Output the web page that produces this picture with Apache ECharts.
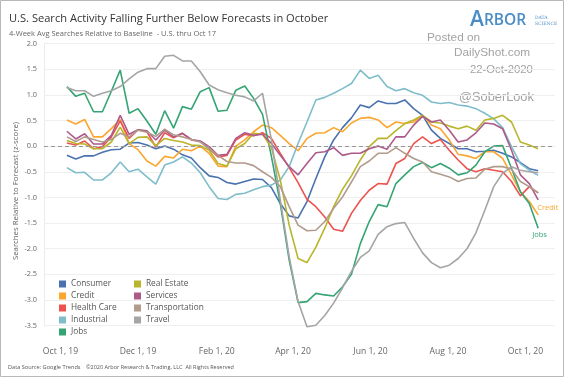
<!DOCTYPE html>
<html>
<head>
<meta charset="utf-8">
<script src="https://cdn.jsdelivr.net/npm/echarts@6/dist/echarts.min.js"></script>
<style>
  html, body { margin: 0; padding: 0; background: #fff; }
  #chart { width: 564px; height: 377px; }
</style>
</head>
<body>
<div id="chart"></div>
<script>
// weekly points (4-week avg), week starting
const weeks = [
  '2019-10-06','2019-10-13','2019-10-20','2019-10-27','2019-11-03','2019-11-10','2019-11-17','2019-11-24',
  '2019-12-01','2019-12-08','2019-12-15','2019-12-22','2019-12-29','2020-01-05','2020-01-12','2020-01-19',
  '2020-01-26','2020-02-02','2020-02-09','2020-02-16','2020-02-23','2020-03-01','2020-03-08','2020-03-15',
  '2020-03-22','2020-03-29','2020-04-05','2020-04-12','2020-04-19','2020-04-26','2020-05-03','2020-05-10',
  '2020-05-17','2020-05-24','2020-05-31','2020-06-07','2020-06-14','2020-06-21','2020-06-28','2020-07-05',
  '2020-07-12','2020-07-19','2020-07-26','2020-08-02','2020-08-09','2020-08-16','2020-08-23','2020-08-30',
  '2020-09-06','2020-09-13','2020-09-20','2020-09-27','2020-10-04','2020-10-11'
];

const consumer = [-0.18,-0.25,-0.19,-0.19,-0.12,-0.07,-0.06,0.06,0.07,0.02,
  -0.05,0.0,-0.06,-0.17,-0.23,-0.42,-0.58,-0.61,-0.71,-0.74,
  -0.69,-0.64,-0.65,-0.81,-1.12,-1.36,-1.40,-1.08,-0.63,-0.21,
  0.12,0.36,0.55,0.80,0.75,0.88,0.83,0.83,0.90,0.73,
  0.60,0.31,0.15,0.05,-0.05,-0.05,-0.11,-0.10,-0.08,-0.14,
  -0.21,-0.32,-0.44,-0.48];
const credit = [0.51,0.43,0.52,0.18,0.18,0.34,0.52,0.05,-0.07,-0.29,
  -0.39,-0.20,-0.23,-0.06,-0.09,0.0,-0.14,-0.39,-0.40,0.0,
  0.12,0.28,0.41,0.36,0.21,0.05,-0.09,0.15,0.25,0.26,
  0.36,0.28,0.45,0.54,0.56,0.51,0.36,0.47,0.44,0.47,
  0.60,0.41,0.34,0.12,-0.16,-0.19,-0.24,-0.11,-0.11,-0.24,
  -0.56,-0.89,-1.08,-1.34];
const healthCare = [0.06,0.02,0.10,-0.05,-0.01,0.18,0.49,0.15,0.32,0.28,
  -0.02,0.26,0.16,0.25,0.12,0.09,-0.05,-0.21,-0.18,0.12,
  0.23,0.20,0.26,0.15,-0.14,-0.42,-0.71,-1.04,-1.18,-1.38,
  -1.62,-1.66,-1.31,-1.06,-0.86,-0.73,-0.74,-0.34,-0.24,0.05,
  0.18,0.05,0.13,-0.08,-0.27,-0.44,-0.50,-0.44,-0.47,-0.50,
  -0.69,-0.97,-0.79,-0.91];
const industrial = [-0.42,-0.52,-0.51,-0.66,-0.66,-0.52,-0.31,-0.50,-0.45,-0.60,
  -0.74,-0.37,-0.31,-0.21,-0.33,-0.52,-0.79,-1.02,-1.04,-0.94,
  -0.92,-0.85,-0.79,-0.76,-0.66,-0.40,0.05,0.47,0.90,0.95,
  1.03,1.12,1.22,1.48,1.32,1.38,1.16,1.08,1.12,1.04,
  0.99,0.86,0.83,0.85,0.80,0.78,0.73,0.64,0.53,0.36,
  -0.01,-0.34,-0.47,-0.57];
const jobs = [1.16,0.97,1.03,0.67,0.67,1.07,1.48,0.64,0.73,0.49,
  0.23,0.69,0.35,0.77,0.72,1.06,1.14,0.68,0.70,1.09,
  1.17,0.93,0.62,-0.20,-1.12,-2.22,-3.05,-3.03,-2.87,-2.90,
  -2.92,-2.74,-2.50,-1.90,-1.47,-1.14,-1.18,-0.73,-0.56,-0.40,
  -0.32,-0.42,-0.34,-0.43,-0.56,-0.52,-0.37,-0.11,0.0,0.01,
  -0.43,-0.89,-1.12,-1.60];
const realEstate = [0.11,0.05,0.04,-0.05,-0.05,0.08,0.37,0.05,0.17,0.18,
  0.01,0.15,0.11,0.08,0.02,0.01,-0.08,-0.34,-0.39,-0.05,
  0.05,0.25,0.23,-0.03,-0.66,-1.54,-2.19,-2.27,-1.97,-1.60,
  -1.18,-0.84,-0.58,-0.27,-0.01,0.15,0.15,0.30,0.44,0.51,
  0.60,0.47,0.45,0.39,0.34,0.39,0.31,0.51,0.54,0.60,
  0.47,0.08,0.02,-0.05];
const services = [0.29,0.14,0.24,0.04,0.04,0.21,0.60,0.23,0.32,0.30,
  0.12,0.31,0.18,0.25,0.13,0.10,-0.01,-0.18,-0.16,0.15,
  0.26,0.21,0.23,0.05,-0.18,-0.40,-0.56,-0.34,-0.13,-0.11,
  -0.03,-0.18,-0.14,-0.14,-0.05,0.0,-0.06,0.18,0.18,0.41,
  0.58,0.47,0.51,0.31,0.08,0.12,0.26,0.45,0.43,0.34,
  -0.08,-0.56,-0.73,-1.05];
const transportation = [0.18,0.09,0.18,0.13,0.08,0.13,0.25,0.18,0.31,0.27,
  0.19,0.33,0.22,0.18,0.13,0.08,-0.05,-0.18,-0.30,-0.33,
  -0.33,-0.38,-0.50,-0.61,-0.79,-1.18,-1.54,-1.65,-1.64,-1.47,
  -1.21,-0.99,-0.70,-0.40,-0.29,-0.14,-0.14,-0.03,-0.14,-0.24,
  -0.31,-0.50,-0.55,-0.60,-0.69,-0.63,-0.62,-0.45,-0.40,-0.40,
  -0.45,-0.69,-0.79,-0.91];
const travel = [1.14,1.08,1.08,0.97,1.03,1.08,1.16,1.31,1.44,1.51,
  1.51,1.75,1.77,1.66,1.66,1.45,1.19,1.10,1.04,0.99,
  0.96,0.88,1.03,0.12,-1.05,-2.16,-3.03,-3.52,-3.49,-3.30,
  -3.06,-2.76,-2.44,-2.17,-2.04,-1.72,-1.57,-1.51,-1.49,-1.80,
  -2.08,-2.27,-2.37,-2.32,-2.19,-2.00,-1.69,-1.25,-0.79,-0.53,
  -0.40,-0.47,-0.50,-0.52];

const tickDates = ['2019-10-01','2019-12-01','2020-02-01','2020-04-01','2020-06-01','2020-08-01','2020-10-01'];

const names = ['Consumer','Credit','Health Care','Industrial','Jobs','Real Estate','Services','Transportation','Travel'];
const seriesData = [consumer, credit, healthCare, industrial, jobs, realEstate, services, transportation, travel];
const colors = ['#4a72ae','#fba62f','#ec534f','#7fbdcb','#35a474','#b8b52c','#ad5a8b','#b19b8c','#a5a5a5'];

const FONT = 'Open Sans';
const MONTHS = ['Jan','Feb','Mar','Apr','May','Jun','Jul','Aug','Sep','Oct','Nov','Dec'];
function toTime(s) {
  const p = s.split('-');
  return new Date(+p[0], +p[1] - 1, +p[2]).getTime();
}
function fmtTick(v) {
  const d = new Date(v);
  return MONTHS[d.getMonth()] + ' ' + d.getDate() + ', ' + String(d.getFullYear()).slice(2);
}

// end-of-line tags shown on the chart
const endTags = {
  'Credit': { offset: [-9, -7] },
  'Jobs': { offset: [-14, 7] }
};

const series = names.map((name, k) => {
  const s = {
    name: name,
    type: 'line',
    data: weeks.map((w, i) => [toTime(w), seriesData[k][i]]),
    showSymbol: false,
    symbol: 'none',
    clip: false,
    lineStyle: { width: 1.6, color: colors[k] },
    itemStyle: { color: colors[k] },
    emphasis: { disabled: true }
  };
  if (endTags[name]) {
    s.endLabel = {
      show: true,
      formatter: name,
      color: colors[k],
      fontFamily: FONT,
      fontSize: 7.5,
      offset: endTags[name].offset
    };
  }
  return s;
});

series[0].markLine = {
  silent: true,
  symbol: 'none',
  label: { show: false },
  lineStyle: { color: '#999', type: [4, 3], width: 1 },
  data: [{ yAxis: 0 }]
};

const legendText = { fontFamily: FONT, fontSize: 8.3, color: '#555', lineHeight: 12 };

const option = {
  animation: false,
  backgroundColor: '#fff',
  grid: { left: 44, right: 9.3, top: 43.5, bottom: 51.3 },
  xAxis: {
    type: 'value',
    min: toTime('2019-09-18'),
    max: toTime('2020-10-24'),
    offset: 14,
    axisLine: { show: true, lineStyle: { color: '#ececec' } },
    axisTick: { show: false },
    splitLine: { show: false },
    axisLabel: {
      customValues: tickDates.map(toTime),
      formatter: (v) => fmtTick(v),
      color: '#666',
      fontFamily: FONT,
      fontSize: 8.6,
      margin: 7
    }
  },
  yAxis: {
    type: 'value',
    min: -3.5,
    max: 2.0,
    interval: 0.5,
    axisLine: { show: true, lineStyle: { color: '#ececec' } },
    axisTick: { show: false },
    splitLine: { lineStyle: { color: '#efefef' } },
    axisLabel: {
      formatter: (v) => v.toFixed(1),
      color: '#666',
      fontFamily: FONT,
      fontSize: 7.3,
      margin: 7
    }
  },
  legend: [
    {
      data: names.slice(0, 5),
      orient: 'vertical',
      left: 54,
      top: 273,
      icon: 'rect',
      itemWidth: 7,
      itemHeight: 7,
      itemGap: 0,
      textStyle: legendText,
      selectedMode: false
    },
    {
      data: names.slice(5),
      orient: 'vertical',
      left: 129,
      top: 273,
      icon: 'rect',
      itemWidth: 7,
      itemHeight: 7,
      itemGap: 0,
      textStyle: legendText,
      selectedMode: false
    }
  ],
  graphic: [
    { type: 'rect', silent: true, shape: { x: 0.5, y: 0.5, width: 563, height: 376 },
      style: { fill: 'none', stroke: '#b8b8b8', lineWidth: 1 } },
    { type: 'text', x: 9, y: 19, style: { text: 'U.S. Search Activity Falling Further Below Forecasts in October',
      font: '11.1px "Open Sans"', fill: '#333', verticalAlign: 'middle' } },
    { type: 'text', x: 9, y: 33.5, style: { text: '4-Week Avg Searches Relative to Baseline  - U.S. thru Oct 17',
      font: '7.5px "Open Sans"', fill: '#666', verticalAlign: 'middle' } },
    { type: 'text', x: 16, y: 191, rotation: Math.PI / 2, style: { text: 'Searches Relative to Forecast (z-score)',
      font: '7.8px "Open Sans"', fill: '#666', align: 'center', verticalAlign: 'middle' } },
    { type: 'text', x: 470, y: 20.5, style: { text: '{a|A}{b|RBOR}',
      rich: { a: { fontFamily: FONT, fontSize: 21, fill: '#4a8dc6', fontWeight: 600 },
              b: { fontFamily: FONT, fontSize: 15.5, fill: '#4a8dc6', fontWeight: 600 } },
      verticalAlign: 'middle' } },
    { type: 'text', x: 535, y: 18, style: { text: 'DATA', font: '4.5px "DejaVu Serif"', fill: '#4a8dc6', verticalAlign: 'middle' } },
    { type: 'text', x: 535, y: 24, style: { text: 'SCIENCE', font: '4.5px "DejaVu Serif"', fill: '#4a8dc6', verticalAlign: 'middle' } },
    { type: 'text', x: 427, y: 37.5, style: { text: 'Posted on', font: '11.8px "Liberation Sans"', fill: '#a3a3a3', verticalAlign: 'middle' } },
    { type: 'text', x: 454, y: 53, style: { text: 'DailyShot.com', font: '11.8px "Liberation Sans"', fill: '#a3a3a3', verticalAlign: 'middle' } },
    { type: 'text', x: 470, y: 70, style: { text: '22-Oct-2020', font: '11.3px "Liberation Sans"', fill: '#a3a3a3', verticalAlign: 'middle' } },
    { type: 'text', x: 459, y: 97.5, style: { text: '@SoberLook', font: '12.8px "Liberation Sans"', fill: '#a3a3a3', verticalAlign: 'middle' } },
    { type: 'text', x: 8, y: 367.5, style: { text: 'Data Source: Google Trends', font: '5.6px "Open Sans"', fill: '#555', verticalAlign: 'middle' } },
    { type: 'text', x: 86, y: 367.5, style: { text: '\u00a92020 Arbor Research & Trading, LLC  All Rights Reserved', font: '5.5px "Open Sans"', fill: '#555', verticalAlign: 'middle' } }
  ],
  series: series
};

const chart = echarts.init(document.getElementById('chart'));
chart.setOption(option);
</script>
</body>
</html>
